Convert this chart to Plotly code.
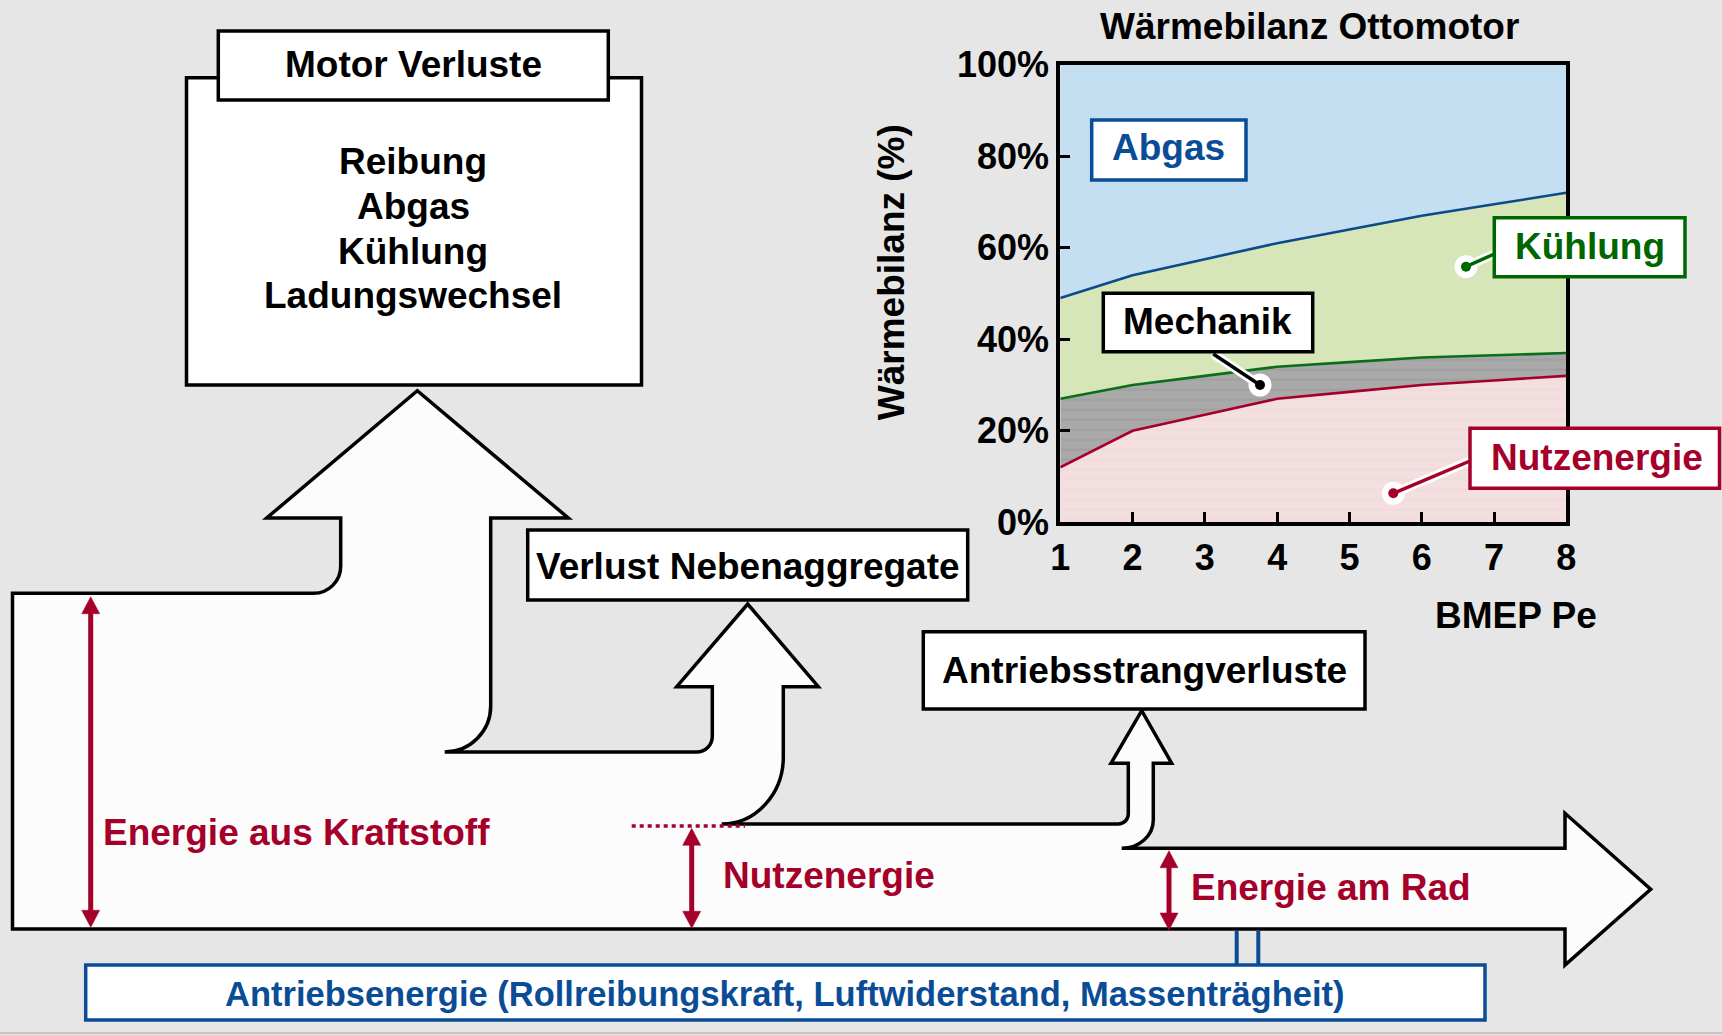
import plotly.graph_objects as go

# ---------------- data (chart "Wärmebilanz Ottomotor") ----------------
bmep = [1, 2, 3, 4, 5, 6, 7, 8]
nutzenergie = [12, 20, 23.5, 27, 28.5, 30, 31, 32]
mechanik = [15, 10, 8.5, 7, 6.5, 6, 5.5, 5]
kuehlung = [22, 24, 25.5, 27, 29, 31, 33, 35]
abgas = [51, 46, 42.5, 39, 36, 33, 30.5, 28]
y_tick_values = [0, 20, 40, 60, 80, 100]
y_tick_labels = ["0%", "20%", "40%", "60%", "80%", "100%"]
x_tick_values = [1, 2, 3, 4, 5, 6, 7, 8]
x_tick_labels = ["1", "2", "3", "4", "5", "6", "7", "8"]

chart_title = "Wärmebilanz Ottomotor"
y_title = "Wärmebilanz (%)"
x_title = "BMEP Pe"
motor_items = ["Reibung", "Abgas", "Kühlung", "Ladungswechsel"]

# ---------------- style ----------------
W, H = 1722, 1035
FONT = "Liberation Sans, Arial, Helvetica, sans-serif"
BG = "#e6e6e6"
RED = "#a5002a"
GREEN = "#006600"
GREEN_LINE = "#0b6e1b"
BLUE = "#0a4d96"
BLUE_LINE = "#0d4a8a"
FILL_BLUE = "#c3dff1"
FILL_GREEN = "#d6e6b9"
FILL_GRAY = "#a9a9a9"
FILL_PINK = "#f4dfe0"
FLOW_FILL = "#fcfcfc"

# chart plot area in pixels
px_l, px_r = 1060.3, 1566.3
px_t, px_b = 64.7, 522.3

fig = go.Figure()

common = dict(x=bmep, xaxis="x2", yaxis="y2", mode="lines", stackgroup="wb",
              hoverinfo="skip")
fig.add_trace(go.Scatter(y=nutzenergie, name="Nutzenergie",
                         line=dict(color=RED, width=2.6), fillcolor=FILL_PINK,
                         fillpattern=dict(shape="-", bgcolor=FILL_PINK, fgcolor="#eed3d6",
                                          size=10, solidity=0.15), **common))
fig.add_trace(go.Scatter(y=mechanik, name="Mechanik",
                         line=dict(color=GREEN_LINE, width=2.6), fillcolor=FILL_GRAY,
                         fillpattern=dict(shape="-", bgcolor=FILL_GRAY, fgcolor="#979797",
                                          size=10, solidity=0.2), **common))
fig.add_trace(go.Scatter(y=kuehlung, name="Kühlung",
                         line=dict(color=BLUE_LINE, width=2.6), fillcolor=FILL_GREEN, **common))
fig.add_trace(go.Scatter(y=abgas, name="Abgas",
                         line=dict(color=FILL_BLUE, width=0), fillcolor=FILL_BLUE, **common))

shapes = []
annotations = []


def rect(x0, y0, x1, y1, color="black", width=3.5, fill="white"):
    shapes.append(dict(type="rect", xref="x", yref="y", x0=x0, y0=y0, x1=x1, y1=y1,
                       line=dict(color=color, width=width), fillcolor=fill, layer="above"))


def line(x0, y0, x1, y1, color, width, dash="solid"):
    shapes.append(dict(type="line", xref="x", yref="y", x0=x0, y0=y0, x1=x1, y1=y1,
                       line=dict(color=color, width=width, dash=dash), layer="above"))


def circle(cx, cy, r, color):
    shapes.append(dict(type="circle", xref="x", yref="y", x0=cx - r, y0=cy - r,
                       x1=cx + r, y1=cy + r, line=dict(width=0), fillcolor=color,
                       layer="above"))


def path(d, fill, color="black", width=3.5):
    shapes.append(dict(type="path", xref="x", yref="y", path=d, fillcolor=fill,
                       line=dict(color=color, width=width), layer="above"))


def txt(x, y, s, size=37, color="black", xanchor="center", angle=0):
    annotations.append(dict(x=x, y=y, xref="x", yref="y", text=s, showarrow=False,
                            xanchor=xanchor, yanchor="middle", textangle=angle,
                            font=dict(family=FONT, size=size, color=color, weight="bold")))


K = 0.5523


def curve(p0, p1, start_vertical):
    (x0, y0), (x1, y1) = p0, p1
    if start_vertical:
        c1 = (x0, y0 + K * (y1 - y0))
        c2 = (x1 + K * (x0 - x1), y1)
    else:
        c1 = (x0 + K * (x1 - x0), y0)
        c2 = (x1, y1 + K * (y0 - y1))
    return "C %.1f,%.1f %.1f,%.1f %.1f,%.1f " % (c1[0], c1[1], c2[0], c2[1], x1, y1)


# ---------------- flow diagram ----------------
d = "M 12.5,593.3 L 313.7,593.3 "
d += curve((313.7, 593.3), (340.7, 566.3), False)
d += "L 340.7,518 L 266.7,518 L 417.3,390.7 L 568.3,518 L 490.7,518 L 490.7,706 "
d += curve((490.7, 706), (444.7, 752), True)
d += "L 696.7,752 "
d += curve((696.7, 752), (712.3, 736.4), False)
d += "L 712.3,686.7 L 676.7,686.7 L 747.7,604 L 818.3,686.7 L 783.3,686.7 L 783.3,757 "
d += curve((783.3, 757), (721.7, 824), True)
d += "L 1118.3,824 "
d += curve((1118.3, 824), (1128.3, 814), False)
d += "L 1128.3,763.3 L 1111,763.3 L 1141.7,710.7 L 1171.7,763.3 L 1153.3,763.3 L 1153.3,820 "
d += curve((1153.3, 820), (1121.7, 848.3), True)
d += "L 1565,848.3 L 1565,813.3 L 1650.7,889.3 L 1565,965 L 1565,929 L 12.5,929 Z"
path(d, FLOW_FILL)

# Motor Verluste box with header
rect(186.5, 77.7, 641.5, 385)
rect(218.3, 31, 608.3, 100)
txt(413.3, 64, "Motor Verluste")
for label, yy in zip(motor_items, [161, 206, 251, 295.5]):
    txt(413.3, yy, label)

# side boxes
rect(527.7, 530, 967.7, 600)
txt(747.5, 566.5, "Verlust Nebenaggregate")
rect(923.3, 631.7, 1365, 709)
txt(1144.2, 670, "Antriebsstrangverluste")

# bottom blue box with connector
line(1236.7, 931, 1236.7, 964, BLUE, 4)
line(1258.3, 931, 1258.3, 964, BLUE, 4)
rect(85.7, 965, 1485, 1020, color=BLUE, width=3.5)
txt(785, 993.5, "Antriebsenergie (Rollreibungskraft, Luftwiderstand, Massenträgheit)",
    size=34.5, color=BLUE)

# red dotted line
line(631.7, 826, 745, 826, RED, 3.5, dash="4px,4px")


def red_arrow(x, yt, yb):
    line(x, yt + 14, x, yb - 14, RED, 5)
    path("M %.1f,%.1f L %.1f,%.1f L %.1f,%.1f Z" % (x - 9, yt + 17, x, yt, x + 9, yt + 17),
         RED, RED, 0.5)
    path("M %.1f,%.1f L %.1f,%.1f L %.1f,%.1f Z" % (x - 9, yb - 17, x, yb, x + 9, yb - 17),
         RED, RED, 0.5)


red_arrow(90.7, 596.7, 927.3)
red_arrow(691.7, 828.3, 928.3)
red_arrow(1169, 850.7, 930)
txt(101, 832, "Energie aus Kraftstoff", color=RED, xanchor="left")
txt(720.5, 875, "Nutzenergie", color=RED, xanchor="left")
txt(1188.5, 887.5, "Energie am Rad", color=RED, xanchor="left")

# page bottom line
line(0, 1033, W, 1033, "#c4c4c4", 2)

# ---------------- chart labels ----------------
txt(1309.7, 26, chart_title)
txt(891.7, 272.5, y_title, angle=-90)
txt(1515.8, 615.5, x_title)


def leader(x0, y0, x1, y1, color):
    line(x0, y0, x1, y1, "white", 9)
    circle(x1, y1, 11.5, "white")
    line(x0, y0, x1, y1, color, 3.5)
    circle(x1, y1, 5, color)


leader(1213.3, 354, 1260, 385, "black")
leader(1494.3, 254, 1466, 266.7, GREEN)
leader(1470, 461, 1393.3, 493.3, RED)

rect(1091.7, 120, 1246, 180, color=BLUE, width=3.5)
txt(1168.3, 147.5, "Abgas", color=BLUE)
rect(1103.3, 293.3, 1312.7, 351.7, color="black", width=3.5)
txt(1207.8, 321, "Mechanik")
rect(1494.3, 217.7, 1685, 276.7, color=GREEN, width=3.5)
txt(1590, 246, "Kühlung", color=GREEN)
rect(1470, 428.3, 1719.5, 488.3, color=RED, width=3.5)
txt(1596.7, 457.5, "Nutzenergie", color=RED)

tickfont = dict(family=FONT, size=36, color="black", weight="bold")
fig.update_layout(
    width=W, height=H, autosize=False,
    margin=dict(l=0, r=0, t=0, b=0, pad=0, autoexpand=False),
    paper_bgcolor=BG, plot_bgcolor=BG,
    showlegend=False,
    xaxis=dict(range=[0, W], domain=[0, 1], visible=False, fixedrange=True,
               automargin=False),
    yaxis=dict(range=[H, 0], domain=[0, 1], visible=False, fixedrange=True,
               automargin=False),
    xaxis2=dict(domain=[px_l / W, px_r / W], anchor="y2", range=[1, 8],
                tickvals=x_tick_values, ticktext=x_tick_labels, automargin=False,
                showline=True, mirror=True, linewidth=4, linecolor="black",
                ticks="inside", ticklen=10, tickwidth=3, tickcolor="black",
                showgrid=False, zeroline=False, tickfont=tickfont, fixedrange=True),
    yaxis2=dict(domain=[(H - px_b) / H, (H - px_t) / H], anchor="x2", range=[0, 100],
                tickvals=y_tick_values, ticktext=y_tick_labels, automargin=False,
                showline=True, mirror=True, linewidth=4, linecolor="black",
                ticks="inside", ticklen=10, tickwidth=3, tickcolor="black",
                showgrid=False, zeroline=False, tickfont=tickfont, fixedrange=True),
    shapes=shapes,
    annotations=annotations,
)

fig.write_html("out.html", config={"responsive": False, "displayModeBar": False},
               post_script="document.body.style.margin='0';")
